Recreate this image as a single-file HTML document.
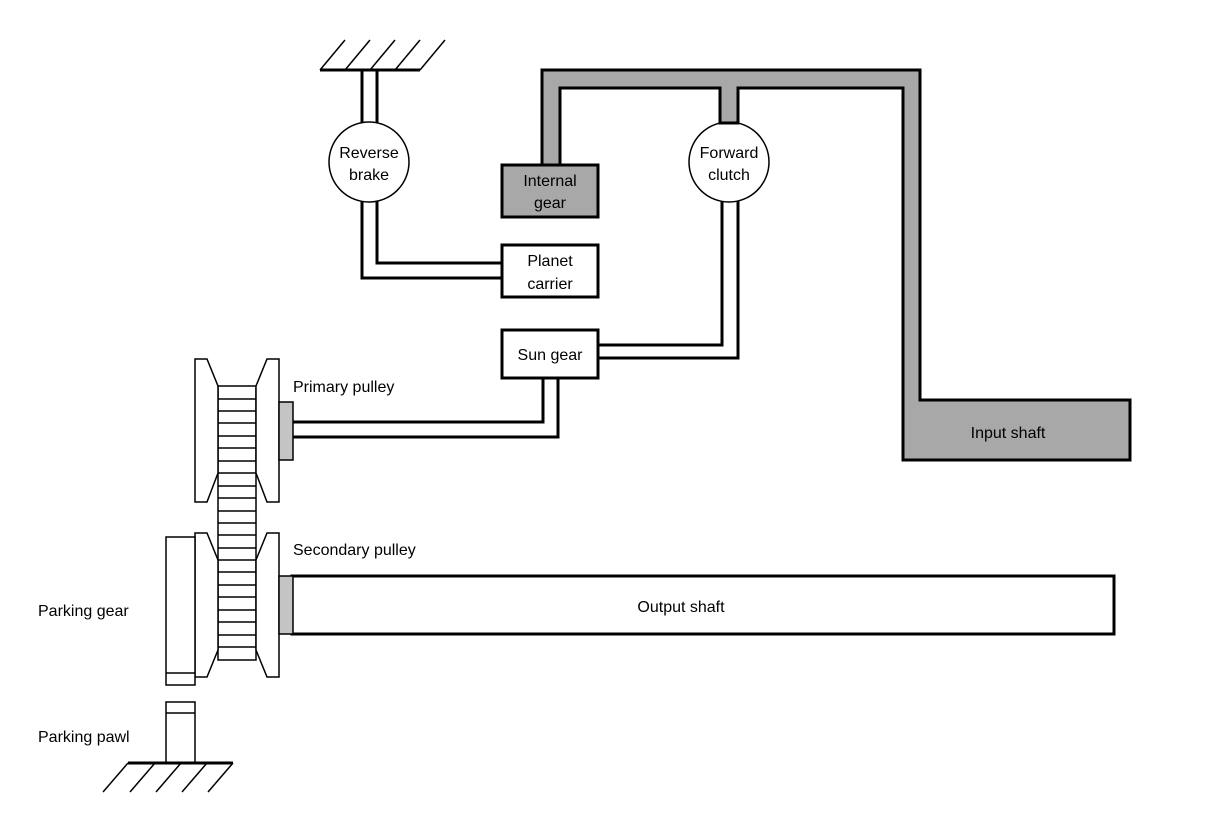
<!DOCTYPE html>
<html><head><meta charset="utf-8"><style>
html,body{margin:0;padding:0;background:#fff;}
svg{display:block;}
text{font-family:"Liberation Sans",sans-serif;font-size:16px;fill:#000;}
</style></head><body>
<svg width="1216" height="824" viewBox="0 0 1216 824" xmlns="http://www.w3.org/2000/svg">
<g stroke="#000" fill="none">
<line x1="320" y1="70" x2="420" y2="70" stroke-width="3"/>
<g stroke-width="1.5"><line x1="320" y1="70" x2="345" y2="40"/><line x1="345" y1="70" x2="370" y2="40"/><line x1="370" y1="70" x2="395" y2="40"/><line x1="395" y1="70" x2="420" y2="40"/><line x1="420" y1="70" x2="445" y2="40"/></g>
<g stroke-width="3">
<line x1="362" y1="70" x2="362" y2="123"/><line x1="377" y1="70" x2="377" y2="123"/>
<polyline points="362,201 362,278 502,278"/><polyline points="377,201 377,263 502,263"/>
<polyline points="722,201 722,345 598,345"/><polyline points="738,201 738,358 598,358"/>
<polyline points="543,378 543,422 292,422"/><polyline points="558,378 558,437 292,437"/>
</g>
<circle cx="369" cy="162" r="40" fill="#fff" stroke-width="1.5"/>
<circle cx="729" cy="162" r="40" fill="#fff" stroke-width="1.5"/>
<path d="M542,70 H920 V400 H1130 V460 H903 V88 H738 V123 H720 V88 H560 V165 H542 Z" fill="#a8a8a8" stroke-width="3"/>
<rect x="502" y="165" width="96" height="52" fill="#a8a8a8" stroke-width="3"/>
<rect x="502" y="245" width="96" height="52" fill="#fff" stroke-width="3"/>
<rect x="502" y="330" width="96" height="48" fill="#fff" stroke-width="3"/>
<rect x="218" y="386" width="38" height="274" stroke-width="1.5" fill="#fff"/>
<g stroke-width="1.5">
<line x1="218" y1="399" x2="256" y2="399"/><line x1="218" y1="411" x2="256" y2="411"/><line x1="218" y1="423" x2="256" y2="423"/><line x1="218" y1="436" x2="256" y2="436"/><line x1="218" y1="448" x2="256" y2="448"/><line x1="218" y1="461" x2="256" y2="461"/><line x1="218" y1="473" x2="256" y2="473"/><line x1="218" y1="486" x2="256" y2="486"/><line x1="218" y1="498" x2="256" y2="498"/><line x1="218" y1="511" x2="256" y2="511"/><line x1="218" y1="523" x2="256" y2="523"/><line x1="218" y1="535" x2="256" y2="535"/><line x1="218" y1="548" x2="256" y2="548"/><line x1="218" y1="560" x2="256" y2="560"/><line x1="218" y1="572" x2="256" y2="572"/><line x1="218" y1="585" x2="256" y2="585"/><line x1="218" y1="597" x2="256" y2="597"/><line x1="218" y1="610" x2="256" y2="610"/><line x1="218" y1="622" x2="256" y2="622"/><line x1="218" y1="635" x2="256" y2="635"/><line x1="218" y1="647" x2="256" y2="647"/>
</g>
<g stroke-width="1.5" fill="#fff">
<polygon points="195,359 207,359 218,386 218,473 207,502 195,502"/>
<polygon points="279,359 267,359 256,386 256,473 267,502 279,502"/>
<polygon points="195,533 207,533 218,560 218,650 207,677 195,677"/>
<polygon points="279,533 267,533 256,560 256,650 267,677 279,677"/>
<rect x="166" y="537" width="29" height="148"/><line x1="166" y1="673" x2="195" y2="673"/>
<rect x="166" y="702" width="29" height="61"/><line x1="166" y1="713" x2="195" y2="713"/>
</g>
<rect x="279" y="402" width="14" height="58" fill="#c4c4c4" stroke-width="1.5"/>
<rect x="292" y="576" width="822" height="58" fill="#fff" stroke-width="3"/>
<rect x="279" y="576" width="14" height="58" fill="#c4c4c4" stroke-width="1.5"/>
<line x1="128" y1="763" x2="233" y2="763" stroke-width="3"/>
<g stroke-width="1.5"><line x1="128" y1="763" x2="103" y2="792"/><line x1="155" y1="763" x2="130" y2="792"/><line x1="181" y1="763" x2="156" y2="792"/><line x1="207" y1="763" x2="182" y2="792"/><line x1="233" y1="763" x2="208" y2="792"/></g>
</g>
<g text-anchor="middle">
<text x="369" y="158">Reverse</text><text x="369" y="180">brake</text>
<text x="729" y="158">Forward</text><text x="729" y="180">clutch</text>
<text x="550" y="186" fill="#444">Internal</text><text x="550" y="208" fill="#444">gear</text>
<text x="550" y="266">Planet</text><text x="550" y="289">carrier</text>
<text x="550" y="360">Sun gear</text>
<text x="1008" y="438" fill="#444">Input shaft</text>
<text x="681" y="612">Output shaft</text>
</g>
<text x="293" y="392">Primary pulley</text>
<text x="293" y="555">Secondary pulley</text>
<text x="38" y="616">Parking gear</text>
<text x="38" y="742">Parking pawl</text>
</svg>
</body></html>
